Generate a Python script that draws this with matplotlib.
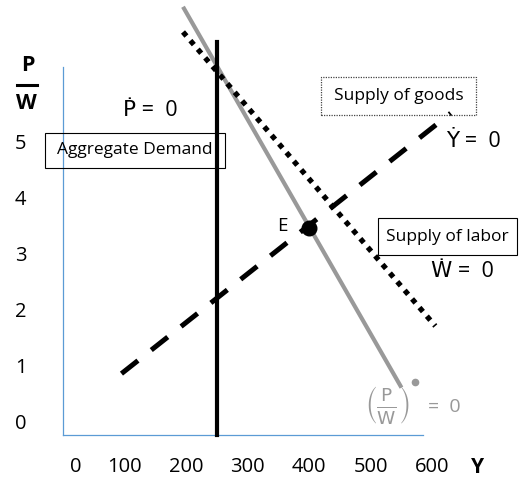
import matplotlib
matplotlib.use("Agg")
import matplotlib.pyplot as plt
from matplotlib.patches import Rectangle

plt.rcParams["font.family"] = ["Open Sans", "DejaVu Sans"]

# curves (Y, P/W)
ad_y = [195, 550]          # aggregate demand, grey
ad_pw = [7.45, 0.65]
goods_y = [195, 605]       # supply of goods, dotted
goods_pw = [7.0, 1.75]
labor_y = [95, 630]        # supply of labor, dashed
labor_pw = [0.9, 5.55]
pdot_y = [250, 250]        # P-dot = 0, vertical
pdot_pw = [-0.2, 6.82]
eq_y, eq_pw = 400, 3.5     # point E

x_ticks = [0, 100, 200, 300, 400, 500, 600]
y_ticks = [0, 1, 2, 3, 4, 5]

W, H = 520, 480
fig = plt.figure(figsize=(W / 100, H / 100), dpi=100)
fig.patch.set_facecolor("white")
ax = fig.add_axes([63 / W, 1 - 435 / H, 360 / W, 368 / H])
ax.set_xlim(0, 585)
ax.set_ylim(-0.196, 6.375)

ax.plot(pdot_y, pdot_pw, color="black", lw=3, clip_on=False, zorder=3)
ax.plot(ad_y, ad_pw, color="#999999", lw=3, clip_on=False, zorder=2,
        solid_capstyle="butt")
ax.plot(goods_y, goods_pw, color="black", lw=3.8, clip_on=False, zorder=2,
        linestyle=(0, (1, 1.15)))
ax.plot(labor_y, labor_pw, color="black", lw=3.6, clip_on=False, zorder=2,
        linestyle=(0, (4.2, 3.4)))
ax.plot([eq_y], [eq_pw], "o", color="black", ms=10.5, zorder=4, clip_on=False)

# axes
for s in ["top", "right"]:
    ax.spines[s].set_visible(False)
for s in ["left", "bottom"]:
    ax.spines[s].set_color("#5b9bd5")
    ax.spines[s].set_linewidth(0.9)
ax.set_xticks([])
ax.set_yticks([])

for v in x_ticks:
    xpos = 20 if v == 0 else v
    ax.text(xpos, -0.77, str(v), ha="center", va="center", fontsize=14.5, clip_on=False)
for v in y_ticks:
    ax.text(-69, v, str(v), ha="center", va="center", fontsize=14.5, clip_on=False)
ax.text(673, -0.77, "Y", ha="center", va="center", fontsize=15, fontweight="bold",
        clip_on=False)

# vertical axis title P/W
ax.text(-57, 6.41, "P", ha="center", va="center", fontsize=15.5, fontweight="bold")
ax.plot([-74, -42], [6.05, 6.05], color="black", lw=2.2, clip_on=False)
ax.text(-59, 5.73, "W", ha="center", va="center", fontsize=15.5, fontweight="bold")

# boxes
ax.add_patch(Rectangle((-29.5, 4.57), 292, 0.63, fill=False, ec="black", lw=0.8,
                       clip_on=False, zorder=5))
ax.text(116, 4.89, "Aggregate Demand", ha="center", va="center", fontsize=12.5,
        zorder=6)
ax.add_patch(Rectangle((420, 5.52), 251, 0.68, fill=False, ec="#444444", lw=0.9,
                       ls=(0, (1, 1)), clip_on=False, zorder=5))
ax.text(545, 5.86, "Supply of goods", ha="center", va="center", fontsize=12.5,
        clip_on=False)
ax.add_patch(Rectangle((512, 3.02), 225, 0.66, fill=False, ec="black", lw=0.8,
                       clip_on=False, zorder=5))
ax.text(624, 3.34, "Supply of labor", ha="center", va="center", fontsize=12.5,
        clip_on=False)

# equation labels
ax.text(142, 5.59, "Ṗ =  0", ha="center", va="center", fontsize=15.5)
ax.text(667, 5.04, "Ẏ =  0", ha="center", va="center", fontsize=15.5, clip_on=False)
ax.text(649, 2.73, "Ẇ =  0", ha="center", va="center", fontsize=15.5, clip_on=False)
ax.text(356, 3.54, "E", ha="center", va="center", fontsize=13.5)

ax.text(527, 0.34, r"$\left(\frac{\mathrm{P}}{\mathrm{W}}\right)$", ha="center",
        va="center", fontsize=19, color="#999999")
ax.plot([572], [0.75], "o", color="#999999", ms=4.5, clip_on=False)
ax.text(620, 0.30, "=  0", ha="center", va="center", fontsize=14, color="#999999",
        clip_on=False)

fig.savefig("out.png", dpi=100, facecolor="white")
